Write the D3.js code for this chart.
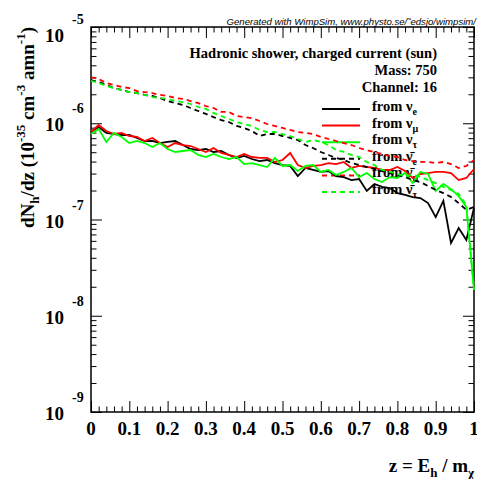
<!DOCTYPE html>
<html><head><meta charset="utf-8">
<script src="https://cdn.jsdelivr.net/npm/d3@7"></script>
<style>body{margin:0;background:#fff}svg{display:block}</style>
</head><body><svg id="c" width="477" height="479"></svg>
<script>
// ---------------- data ----------------
const zValues = [0,0.02,0.04,0.06,0.08,0.1,0.12,0.14,0.16,0.18,0.2,0.22,0.24,0.26,0.28,0.3,0.32,0.34,0.36,0.38,0.4,0.42,0.44,0.46,0.48,0.5,0.52,0.54,0.56,0.58,0.6,0.62,0.64,0.66,0.68,0.7,0.72,0.74,0.76,0.78,0.8,0.82,0.84,0.86,0.88,0.9,0.92,0.94,0.96,0.98,1];

const fromNuE = [8.11e-7,9.14e-7,7.92e-7,7.73e-7,7.55e-7,7.55e-7,7.03e-7,6.54e-7,6.54e-7,6.23e-7,6.39e-7,6.54e-7,5.94e-7,5.40e-7,5.27e-7,5.40e-7,5.03e-7,5.15e-7,4.68e-7,4.36e-7,4.57e-7,4.25e-7,4.05e-7,4.15e-7,3.86e-7,3.68e-7,3.60e-7,2.83e-7,3.43e-7,3.27e-7,3.12e-7,3.19e-7,2.83e-7,2.76e-7,2.57e-7,2.63e-7,1.98e-7,2.34e-7,2.18e-7,2.12e-7,1.88e-7,1.80e-7,1.71e-7,1.67e-7,1.48e-7,1.06e-7,1.56e-7,5.70e-8,8.16e-8,6.12e-8,1.32e-7];
const fromNuMu = [8.11e-7,9.59e-7,8.31e-7,7.73e-7,7.92e-7,7.37e-7,7.20e-7,6.54e-7,7.03e-7,6.23e-7,5.67e-7,6.23e-7,5.94e-7,5.80e-7,5.40e-7,5.03e-7,5.53e-7,4.91e-7,4.68e-7,4.46e-7,4.79e-7,4.46e-7,4.36e-7,4.36e-7,3.96e-7,4.15e-7,4.91e-7,3.68e-7,3.43e-7,3.60e-7,3.68e-7,3.86e-7,3.77e-7,3.96e-7,3.43e-7,3.60e-7,3.51e-7,3.43e-7,3.27e-7,3.27e-7,3.51e-7,3.19e-7,2.70e-7,2.97e-7,3.04e-7,3.12e-7,3.12e-7,3.04e-7,2.57e-7,2.70e-7,3.35e-7];
const fromNuTau = [7.73e-7,8.72e-7,6.39e-7,7.92e-7,7.20e-7,6.23e-7,6.54e-7,6.23e-7,5.67e-7,6.23e-7,5.40e-7,5.03e-7,5.15e-7,5.27e-7,4.68e-7,4.46e-7,4.79e-7,4.46e-7,4.25e-7,4.46e-7,3.77e-7,3.86e-7,3.68e-7,3.51e-7,4.36e-7,3.60e-7,3.68e-7,3.19e-7,3.60e-7,3.68e-7,3.12e-7,3.27e-7,2.90e-7,3.12e-7,3.43e-7,2.76e-7,3.04e-7,2.63e-7,2.45e-7,2.76e-7,2.70e-7,3.04e-7,2.39e-7,3.12e-7,2.97e-7,1.98e-7,2.34e-7,2.07e-7,1.75e-7,1.35e-7,1.85e-8];
const fromNuEBar = [2.81e-6,2.68e-6,2.50e-6,2.32e-6,2.22e-6,2.11e-6,2.06e-6,1.97e-6,1.92e-6,1.83e-6,1.70e-6,1.62e-6,1.55e-6,1.44e-6,1.34e-6,1.25e-6,1.16e-6,1.08e-6,1.03e-6,9.37e-7,8.93e-7,8.31e-7,7.37e-7,7.73e-7,7.73e-7,7.37e-7,7.03e-7,6.70e-7,5.94e-7,5.53e-7,5.03e-7,4.68e-7,4.36e-7,4.15e-7,3.86e-7,3.68e-7,3.51e-7,3.35e-7,3.19e-7,3.04e-7,2.90e-7,2.76e-7,2.57e-7,2.45e-7,2.23e-7,2.03e-7,1.88e-7,1.71e-7,1.48e-7,1.26e-7,1.35e-7];
const fromNuMuBar = [3.02e-6,2.88e-6,2.62e-6,2.50e-6,2.38e-6,2.32e-6,2.16e-6,2.11e-6,2.06e-6,1.97e-6,1.92e-6,1.83e-6,1.79e-6,1.70e-6,1.62e-6,1.51e-6,1.44e-6,1.31e-6,1.31e-6,1.19e-6,1.16e-6,1.13e-6,1.055e-6,9.82e-7,9.37e-7,8.93e-7,8.51e-7,8.11e-7,7.92e-7,7.73e-7,7.20e-7,6.86e-7,6.54e-7,6.23e-7,5.94e-7,5.53e-7,5.27e-7,5.03e-7,4.79e-7,4.57e-7,4.46e-7,4.15e-7,4.05e-7,3.96e-7,3.96e-7,3.86e-7,3.96e-7,3.77e-7,3.43e-7,3.60e-7,4.15e-7];
const fromNuTauBar = [2.75e-6,2.62e-6,2.44e-6,2.32e-6,2.22e-6,2.11e-6,2.06e-6,1.97e-6,1.87e-6,1.83e-6,1.79e-6,1.70e-6,1.66e-6,1.585e-6,1.475e-6,1.41e-6,1.28e-6,1.19e-6,1.11e-6,1.03e-6,9.82e-7,9.37e-7,8.51e-7,8.11e-7,8.11e-7,7.73e-7,7.37e-7,6.86e-7,6.39e-7,6.70e-7,6.39e-7,5.94e-7,5.27e-7,5.03e-7,4.68e-7,4.46e-7,3.96e-7,3.68e-7,3.27e-7,3.12e-7,2.97e-7,2.83e-7,2.90e-7,2.76e-7,2.57e-7,2.39e-7,2.18e-7,2.03e-7,1.84e-7,1.42e-7,1.85e-8];

const xTickLabels = ["0","0.1","0.2","0.3","0.4","0.5","0.6","0.7","0.8","0.9","1"];
const yDecadeExponents = [-9,-8,-7,-6,-5];
const legendFlavours = ["e","\u03BC","\u03C4","e","\u03BC","\u03C4"];
const legendAnti = [false,false,false,true,true,true];
const infoLines = ["Hadronic shower, charged current (sun)","Mass: 750","Channel: 16"];

const series = [
  {values: fromNuE, color:"#000000", dash:null},
  {values: fromNuMu, color:"#ff0000", dash:null},
  {values: fromNuTau, color:"#00ff00", dash:null},
  {values: fromNuEBar, color:"#000000", dash:"5,4"},
  {values: fromNuMuBar, color:"#ff0000", dash:"5,4"},
  {values: fromNuTauBar, color:"#00ff00", dash:"5,4"}
];

// ---------------- layout ----------------
const L=91, R=474, T=27, B=412;
const serif = "'Liberation Serif','Times New Roman',serif";
const svg = d3.select("#c");
const x = d3.scaleLinear().domain([0,1]).range([L,R]);
const y = d3.scaleLog().domain([1e-9,1e-5]).range([B,T]);

// ticks
const xMajor = d3.range(0,11).map(i=>i/10);
const xMinor = d3.range(0,51).map(i=>i/50).filter((d,i)=>i%5!==0);
const yMajor = yDecadeExponents.map(e=>Math.pow(10,e));
const yMinor = [];
yDecadeExponents.slice(0,-1).forEach(e=>{for(let m=2;m<=9;m++) yMinor.push(m*Math.pow(10,e));});

function tickAxis(axis, tr){
  const g = svg.append("g").attr("transform",tr).call(axis);
  g.select(".domain").remove();
  g.selectAll("text").remove();
  g.selectAll("line").attr("stroke","#000").attr("stroke-width",1);
}
tickAxis(d3.axisBottom(x).tickValues(xMajor).tickSize(-11).tickFormat(""),`translate(0,${B})`);
tickAxis(d3.axisBottom(x).tickValues(xMinor).tickSize(-5.5).tickFormat(""),`translate(0,${B})`);
tickAxis(d3.axisTop(x).tickValues(xMajor).tickSize(-11).tickFormat(""),`translate(0,${T})`);
tickAxis(d3.axisTop(x).tickValues(xMinor).tickSize(-5.5).tickFormat(""),`translate(0,${T})`);
tickAxis(d3.axisLeft(y).tickValues(yMajor).tickSize(-11).tickFormat(""),`translate(${L},0)`);
tickAxis(d3.axisLeft(y).tickValues(yMinor).tickSize(-5.5).tickFormat(""),`translate(${L},0)`);
tickAxis(d3.axisRight(y).tickValues(yMajor).tickSize(-11).tickFormat(""),`translate(${R},0)`);
tickAxis(d3.axisRight(y).tickValues(yMinor).tickSize(-5.5).tickFormat(""),`translate(${R},0)`);

// x tick labels
svg.append("g").selectAll("text").data(xTickLabels).join("text")
  .attr("x",(d,i)=>x(xMajor[i])).attr("y",B+23)
  .attr("text-anchor","middle").attr("font-family",serif).attr("font-weight","bold")
  .attr("font-size",19).text(d=>d);

// y tick labels
const yl = svg.append("g").selectAll("g").data(yDecadeExponents).join("g")
  .attr("transform",e=>`translate(0,${y(Math.pow(10,e)) + (e===-5?15:8)})`);
yl.append("text").attr("x",64).attr("y",0).attr("text-anchor","end")
  .attr("font-family",serif).attr("font-weight","bold").attr("font-size",19).text("10");
yl.append("text").attr("x",72).attr("y",-18)
  .attr("font-family",serif).attr("font-weight","bold").attr("font-size",14).text(e=>String(e));

// frame
svg.append("rect").attr("x",L).attr("y",T).attr("width",R-L).attr("height",B-T)
  .attr("fill","none").attr("stroke","#000").attr("stroke-width",1.5);

// generated note
svg.append("text").attr("x",476).attr("y",25).attr("text-anchor","end")
  .attr("font-family","'Liberation Sans',Arial,sans-serif").attr("font-style","italic")
  .attr("font-size",9.6).text("Generated with WimpSim, www.physto.se/\u02DCedsjo/wimpsim/");

// info text
svg.append("g").selectAll("text").data(infoLines).join("text")
  .attr("x",437).attr("y",(d,i)=>58+i*17).attr("text-anchor","end")
  .attr("font-family",serif).attr("font-weight","bold").attr("font-size",14.5).text(d=>d);

// legend
const leg = svg.append("g").selectAll("g").data(series).join("g")
  .attr("transform",(d,i)=>`translate(0,${109+i*16.6})`);
leg.append("line").attr("x1",322).attr("x2",360).attr("y1",0).attr("y2",0)
  .attr("stroke",d=>d.color).attr("stroke-width",2).attr("stroke-dasharray",d=>d.dash);
const lt = leg.append("text").attr("x",372).attr("y",2)
  .attr("font-family",serif).attr("font-weight","bold").attr("font-size",14.5);
lt.append("tspan").text((d,i)=>"from "+(legendAnti[i]?"\u03BD\u0304":"\u03BD"));
lt.append("tspan").attr("dy",4).attr("font-size",10).text((d,i)=>legendFlavours[i]);

// curves
const line = d3.line().x((d,i)=>x(zValues[i])).y(d=>y(d));
svg.append("g").selectAll("path").data(series).join("path")
  .attr("d",d=>line(d.values)).attr("fill","none")
  .attr("stroke",d=>d.color).attr("stroke-width",1.8)
  .attr("stroke-dasharray",d=>d.dash).attr("stroke-linejoin","miter");

// axis titles
const xt = svg.append("text").attr("x",474).attr("y",472).attr("text-anchor","end")
  .attr("font-family",serif).attr("font-weight","bold").attr("font-size",19);
xt.append("tspan").text("z = E");
xt.append("tspan").attr("dy",5).attr("font-size",13).text("h");
xt.append("tspan").attr("dy",-5).text(" / m");
xt.append("tspan").attr("dy",5).attr("font-size",13).text("\u03C7");

const ytl = svg.append("text").attr("transform",`translate(34,${T}) rotate(-90)`)
  .attr("text-anchor","end").attr("font-family",serif).attr("font-weight","bold").attr("font-size",19);
ytl.append("tspan").text("dN");
ytl.append("tspan").attr("dy",5).attr("font-size",13).text("h");
ytl.append("tspan").attr("dy",-5).text("/dz (10");
ytl.append("tspan").attr("dy",-9).attr("font-size",13).text("-35");
ytl.append("tspan").attr("dy",9).text(" cm");
ytl.append("tspan").attr("dy",-9).attr("font-size",13).text("-3");
ytl.append("tspan").attr("dy",9).text(" amn");
ytl.append("tspan").attr("dy",-9).attr("font-size",13).text("-1");
ytl.append("tspan").attr("dy",9).text(")");
</script></body></html>
